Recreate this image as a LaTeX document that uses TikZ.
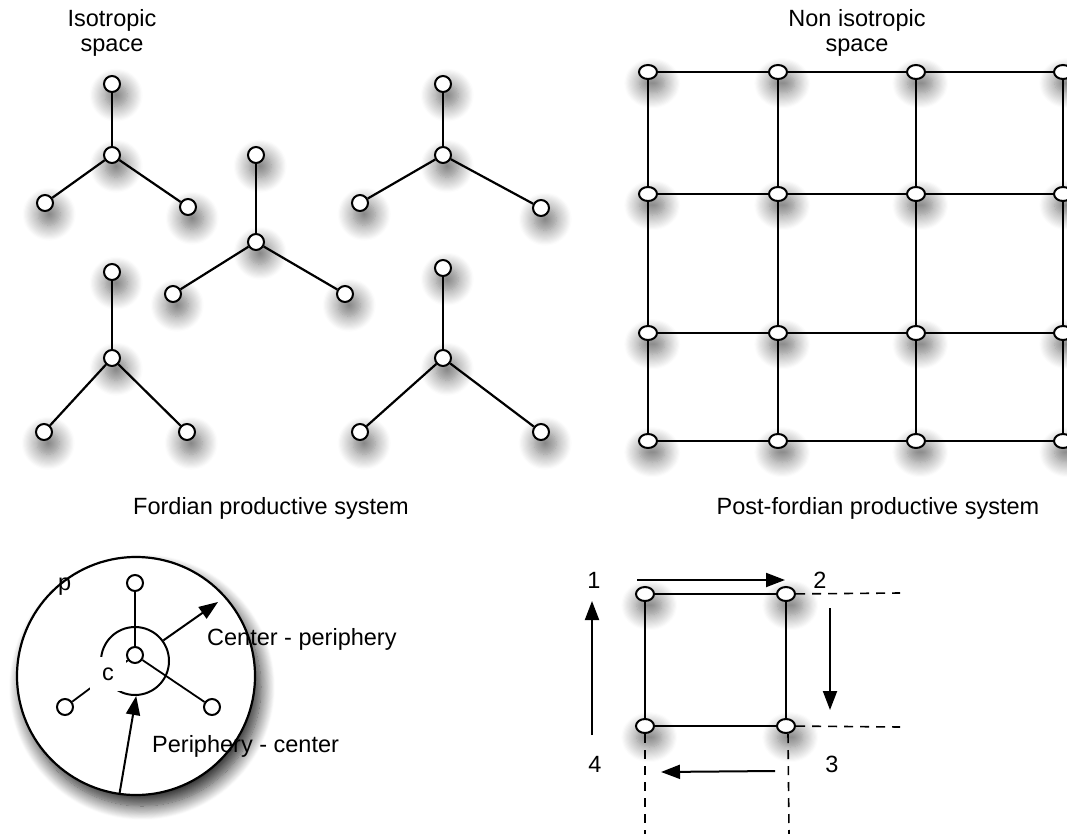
\documentclass[tikz,border=0pt]{standalone}
\usepackage{fontspec}
\setmainfont{Liberation Sans}
\usetikzlibrary{arrows.meta,shapes.geometric,shadows.blur}
\begin{document}
\begin{tikzpicture}[x=1pt,y=-1pt,
  lbl/.style={font=\fontsize{23.5}{25}\selectfont, inner sep=0pt},
  edge/.style={line width=2.2pt, black},
  sdw/.style={blur shadow={shadow xshift=3pt, shadow yshift=-8pt, shadow blur radius=11pt, shadow opacity=55, shadow blur steps=14, shadow scale=1.4}},
  dotns/.style={circle, draw, line width=2pt, fill=white, minimum size=16pt, inner sep=0pt},
  dot/.style={dotns, sdw},
  gdot/.style={ellipse, draw, line width=2pt, fill=white, minimum width=18pt, minimum height=14pt, inner sep=0pt, sdw},
  arr/.style={line width=2pt, -{Triangle[length=19pt,width=14pt]}},
  dsh/.style={line width=1.6pt, dash pattern=on 9pt off 7pt}]
\useasboundingbox (0,0) rectangle (1067,834);

% titles
\node[lbl, align=center] (t1) at (112,33) {Isotropic\\space};
\node[lbl, align=center] (t2) at (857,33) {Non isotropic\\space};
\node[lbl, anchor=base] (t3) at (271,514) {Fordian productive system};
\node[lbl, anchor=base] (t4) at (878,514) {Post-fordian productive system};

% stars
\foreach \n/\cx/\cy/\tx/\ty/\lx/\ly/\rx/\ry in {
  a/112/155/112/84/45/203/188/207,
  b/256/242/256/155/173/294/345/294,
  c/443/155/443/84/360/203/541/208,
  d/112/358/112/272/44/432/187/432,
  e/443/358/443/268/360/432/541/432}{
  \node[dot] (\n c) at (\cx,\cy) {};
  \node[dot] (\n t) at (\tx,\ty) {};
  \node[dot] (\n l) at (\lx,\ly) {};
  \node[dot] (\n r) at (\rx,\ry) {};
  \draw[edge] (\n c) -- (\n t);
  \draw[edge] (\n c) -- (\n l);
  \draw[edge] (\n c) -- (\n r);
}

% grid
\foreach \i/\x in {1/648,2/778,3/916,4/1063}{
  \foreach \j/\y in {1/72,2/194,3/333,4/441}{
    \node[gdot] (g\i\j) at (\x,\y) {};
  }
}
\foreach \i/\k in {1/2,2/3,3/4}{
  \foreach \j in {1,2,3,4}{
    \draw[edge] (g\i\j) -- (g\k\j);
    \draw[edge] (g\j\i) -- (g\j\k);
  }
}

% fordian circle
\node[circle, draw, line width=2.2pt, fill=white, minimum size=238pt, inner sep=0pt,
  blur shadow={shadow xshift=6pt, shadow yshift=-11pt, shadow blur radius=14pt, shadow opacity=85, shadow blur steps=16}] (big) at (136,676) {};
\node[dotns] (ic) at (135,655) {};
\node[dotns] (it) at (135,583) {};
\node[dotns] (il) at (65,707) {};
\node[dotns] (ir) at (212,707) {};
\draw[edge, line width=1.8pt] (ic) -- (it);
\draw[edge, line width=1.8pt] (ic) -- (ir);
\draw[edge, line width=1.8pt] (ic) -- (il);
\node[circle, draw, line width=2pt, minimum size=68pt, inner sep=0pt] (arc) at (135,661) {};
\node[lbl, fill=white, minimum width=36pt, minimum height=34pt] (clab) at (108,674) {c};
\node[lbl, anchor=base west] (plab) at (58,590) {p};
\coordinate (cpend) at (218,602);
\draw[arr] (arc.36) -- (cpend);
\draw[arr] (big.262) -- (arc.272);
\node[lbl, anchor=base west] (cp) at (207,645) {Center - periphery};
\node[lbl, anchor=base west] (pc) at (152,752) {Periphery - center};

% post-fordian square
\node[gdot] (q1) at (645,594) {};
\node[gdot] (q2) at (786,594) {};
\node[gdot] (q3) at (786,726) {};
\node[gdot] (q4) at (645,726) {};
\draw[edge] (q1) -- (q2);
\draw[edge] (q2) -- (q3);
\draw[edge] (q3) -- (q4);
\draw[edge] (q4) -- (q1);
\coordinate (d1) at (900,593);
\coordinate (d2) at (900,727);
\coordinate (d3) at (645,834);
\coordinate (d4) at (789,834);
\draw[dsh] (q2) -- (d1);
\draw[dsh] (q3) -- (d2);
\draw[dsh] (q4) -- (d3);
\draw[dsh] (q3.south) ++(2,0) -- (d4);

\node[lbl, anchor=base] (n1) at (594,588) {1};
\node[lbl, anchor=base] (n2) at (820,588) {2};
\node[lbl, anchor=base] (n3) at (832,772) {3};
\node[lbl, anchor=base] (n4) at (595,772) {4};
\coordinate (a1s) at (637,580);
\coordinate (a1e) at (785,580);
\coordinate (a2s) at (830,608);
\coordinate (a2e) at (830,710);
\coordinate (a3s) at (775,771);
\coordinate (a3e) at (661,772);
\coordinate (a4s) at (592,735);
\coordinate (a4e) at (592,601);
\draw[arr] (a1s) -- (a1e);
\draw[arr] (a2s) -- (a2e);
\draw[arr] (a3s) -- (a3e);
\draw[arr] (a4s) -- (a4e);
\end{tikzpicture}
\end{document}
